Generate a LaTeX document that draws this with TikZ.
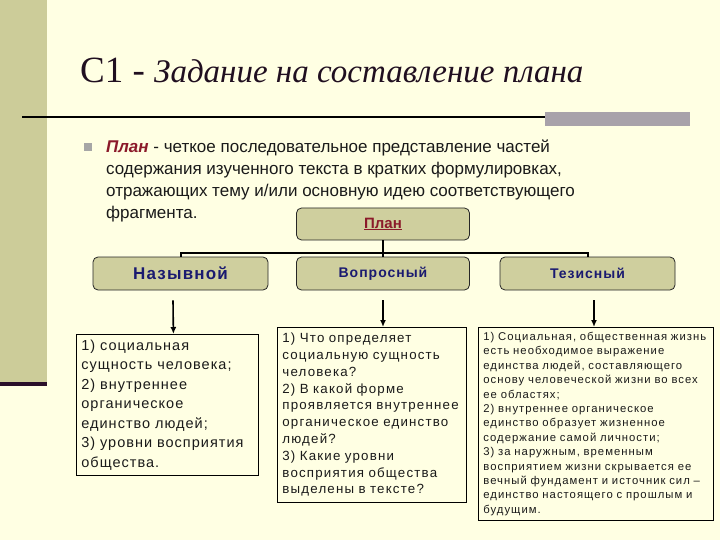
\documentclass[tikz,border=0pt]{standalone}
\usepackage{fontspec}
\setmainfont{Liberation Sans}
\newfontfamily\serifttl{Liberation Serif}
\newfontfamily\wideA[LetterSpace=7]{Liberation Sans}
\newfontfamily\wideB[LetterSpace=9]{Liberation Sans}
\newfontfamily\wideC[LetterSpace=9]{Liberation Sans}
\newfontfamily\wideH[LetterSpace=7]{Liberation Sans}
\usetikzlibrary{arrows.meta,calc}
\definecolor{bg}{HTML}{FFFFE3}
\definecolor{band}{HTML}{CCCC99}
\definecolor{dkline}{HTML}{2A0F2A}
\definecolor{greybar}{HTML}{A8A2AA}
\definecolor{boxfill}{HTML}{CFCF9E}
\definecolor{planred}{HTML}{8B1A2A}
\definecolor{navy}{HTML}{1A1A70}
\definecolor{ttl}{HTML}{200F20}
\definecolor{bodytxt}{HTML}{1A1A1A}
\begin{document}
\begin{tikzpicture}[x=1pt,y=-1pt,
  hdr/.style={draw=black!85, line width=0.8pt, rounded corners=5pt, fill=boxfill, minimum height=33pt, inner sep=0pt},
  txtbox/.style={draw=black, line width=0.8pt, fill=bg, anchor=north west, align=left, inner xsep=5pt, text=bodytxt},
  conn/.style={line width=2pt, black},
  arr/.style={line width=1.6pt, -{Latex[length=7pt,width=6pt]}}
]
\useasboundingbox (0,0) rectangle (720,540);
\fill[bg] (0,0) rectangle (720,540);
\fill[band] (0,0) rectangle (47,382);
\fill[dkline] (0,382) rectangle (47,386);
\fill[greybar] (545,112) rectangle (690,126);
\draw[line width=2.5pt, black] (22,117) -- (545,117);

\node[anchor=base west, inner sep=0pt, text=ttl] (title) at (80,83)
  {\serifttl\fontsize{37}{40}\selectfont C1 - \itshape\fontsize{33}{36}\selectfont Задание на составление плана};

\node[fill=black!35, minimum size=8pt, inner sep=0pt] (bul) at (88,147) {};
\node[anchor=north west, inner sep=0pt, align=left, text=bodytxt, font=\fontsize{17}{22}\selectfont] (def) at (106,140)
  {{\bfseries\itshape\color{planred}План} - четкое последовательное представление частей\\
   содержания изученного текста в кратких формулировках,\\
   отражающих тему и/или основную идею соответствующего\\
   фрагмента.};

\node[hdr, minimum width=173pt, minimum height=32pt] (plan) at (383,224)
  {\bfseries\color{planred}\fontsize{15}{18}\selectfont\underline{План}};

\node[hdr, minimum width=175pt] (n1) at (180.5,273.5) {\wideH\bfseries\color{navy}\fontsize{17}{18}\selectfont Назывной};
\node[hdr, minimum width=173pt] (n2) at (383,273.5) {\wideH\bfseries\color{navy}\fontsize{14}{16}\selectfont Вопросный};
\node[hdr, minimum width=175pt] (n3) at (587.5,273.5) {\wideH\bfseries\color{navy}\fontsize{14}{16}\selectfont Тезисный};

\draw[conn] (plan.south) -- (n2.north);
\coordinate (hub) at ($(plan.south)+(0,13)$);
\draw[conn] (n1.north) |- (hub) -| (n3.north);

\node[txtbox, text width=172pt, minimum height=141pt, font=\wideA\fontsize{14.5}{19.5}\selectfont] (b1) at (76,334)
  {1) социальная\\
   сущность человека;\\
   2) внутреннее\\
   органическое\\
   единство людей;\\
   3) уровни восприятия\\
   общества.};

\node[txtbox, text width=179pt, minimum height=175pt, font=\wideB\fontsize{13.3}{16.8}\selectfont] (b2) at (277,327)
  {1) Что определяет\\
   социальную сущность\\
   человека?\\
   2) В какой форме\\
   проявляется внутреннее\\
   органическое единство\\
   людей?\\
   3) Какие уровни\\
   восприятия общества\\
   выделены в тексте?};

\node[txtbox, text width=225pt, minimum height=193pt, font=\wideC\fontsize{11.3}{14.4}\selectfont] (b3) at (478,327)
  {1) Социальная, общественная жизнь\\
   есть необходимое выражение\\
   единства людей, составляющего\\
   основу человеческой жизни во всех\\
   ее областях;\\
   2) внутреннее органическое\\
   единство образует жизненное\\
   содержание самой личности;\\
   3) за наружным, временным\\
   восприятием жизни скрывается ее\\
   вечный фундамент и источник сил –\\
   единство настоящего с прошлым и\\
   будущим.};

\coordinate (a3) at ([shift={(6.5,10)}]n3.south);
\draw[arr] ([shift={(-7.5,10)}]n1.south) -- ([xshift=6pt]b1.north);
\draw[arr] ([shift={(0,10)}]n2.south) -- (b2.north -| n2.south);
\draw[arr] (a3) -- (b3.north -| a3);
\end{tikzpicture}
\end{document}
